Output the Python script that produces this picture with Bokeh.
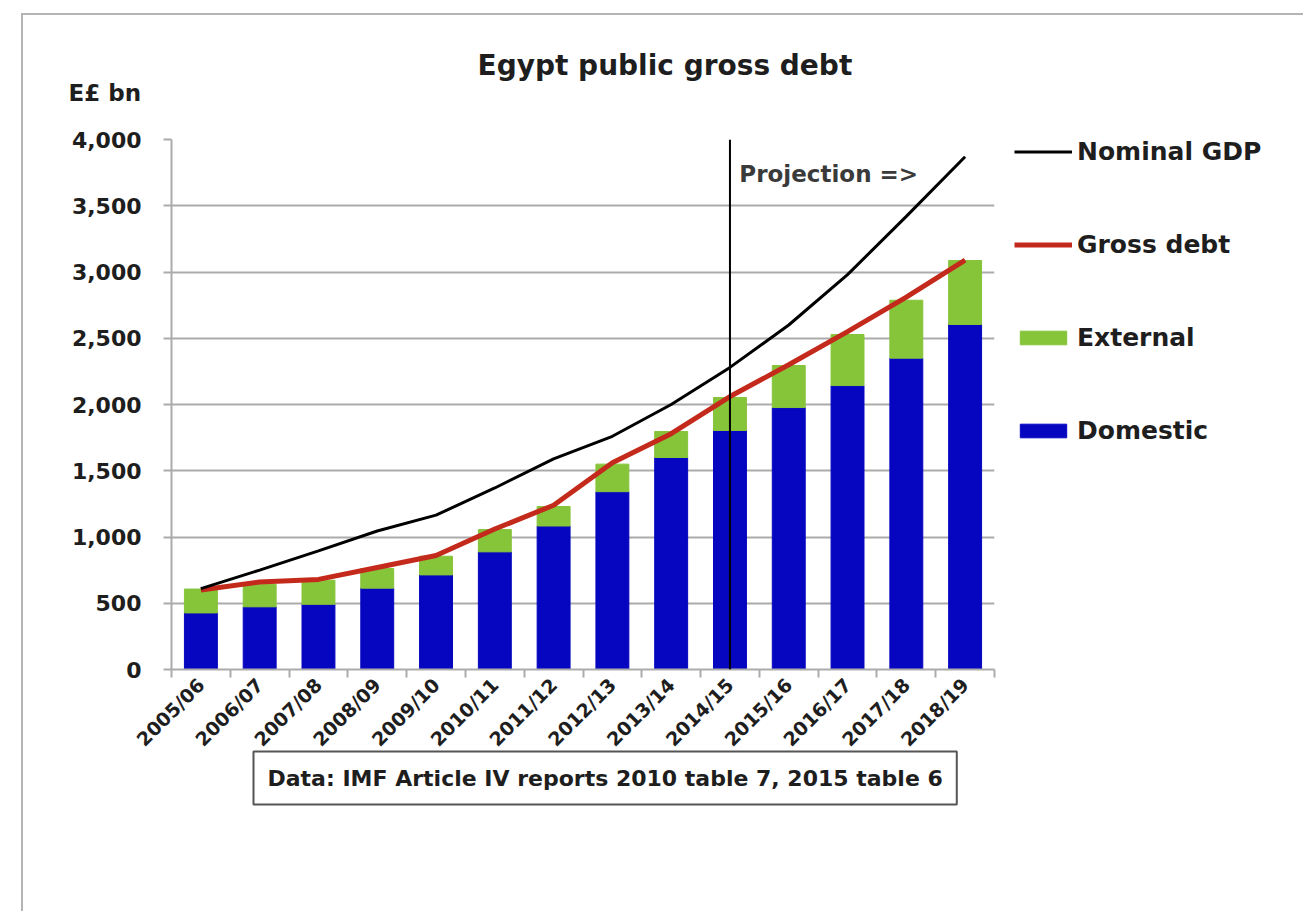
import math
from bokeh.plotting import figure
from bokeh.models import (Range1d, FixedTicker, NumeralTickFormatter, Label, Span,
                          Legend, LegendItem, ColumnDataSource, Title)
from bokeh.embed import file_html
from bokeh.resources import INLINE

# ---------------- data ----------------
years = ["2005/06", "2006/07", "2007/08", "2008/09", "2009/10", "2010/11", "2011/12",
         "2012/13", "2013/14", "2014/15", "2015/16", "2016/17", "2017/18", "2018/19"]
domestic = [427, 473, 492, 614, 714, 888, 1083, 1342, 1600, 1804, 1977, 2143, 2350, 2604]
external = [180, 169, 182, 148, 141, 168, 147, 208, 196, 249, 317, 385, 437, 483]
gross_debt = [600, 660, 680, 770, 860, 1060, 1240, 1560, 1780, 2060, 2300, 2550, 2810, 3090]
nominal_gdp = [610, 750, 895, 1045, 1165, 1370, 1590, 1760, 2000, 2280, 2600, 2980, 3420, 3870]
y_ticks = [0, 500, 1000, 1500, 2000, 2500, 3000, 3500, 4000]
projection_start = "2014/15"

FONT = "DejaVu Sans"
GREEN = "#86c43a"
BLUE = "#0606c0"
RED = "#c42a1c"
GRID = "#ababab"
TXT = "#1e1e1e"

idx = list(range(len(years)))
total = [d + e for d, e in zip(domestic, external)]
src = ColumnDataSource(dict(x=idx, domestic=domestic, total=total,
                            debt=gross_debt, gdp=nominal_gdp))

p = figure(frame_width=823, frame_height=530, output_backend="svg", toolbar_location=None,
           x_range=Range1d(-0.5, len(years) - 0.5), y_range=Range1d(0, 4000),
           min_border_left=148, min_border_right=20, min_border_top=124,
           min_border_bottom=242)
p.margin = (13, 0, 0, 21)
p.styles = {"border-top": "2px solid #b4b4b4", "border-left": "2px solid #b4b4b4"}
p.outline_line_color = None
p.background_fill_color = "white"
p.border_fill_color = "white"

# grid
p.xgrid.grid_line_color = None
p.ygrid.ticker = FixedTicker(ticks=y_ticks)
p.ygrid.grid_line_color = GRID
p.ygrid.grid_line_width = 2

# y axis
p.yaxis.ticker = FixedTicker(ticks=y_ticks)
p.yaxis.formatter = NumeralTickFormatter(format="0,0")
p.yaxis.axis_line_color = GRID
p.yaxis.axis_line_width = 2
p.yaxis.major_tick_line_color = GRID
p.yaxis.major_tick_line_width = 2
p.yaxis.major_tick_out = 8
p.yaxis.major_tick_in = 0
p.yaxis.minor_tick_line_color = None
p.yaxis.major_label_standoff = 22
p.yaxis.major_label_text_font = FONT
p.yaxis.major_label_text_font_style = "bold"
p.yaxis.major_label_text_font_size = "22px"
p.yaxis.major_label_text_color = TXT

# x axis
p.xaxis.ticker = FixedTicker(ticks=idx, minor_ticks=[i - 0.5 for i in range(len(years) + 1)])
p.xaxis.major_label_overrides = {i: y for i, y in zip(idx, years)}
p.xaxis.major_label_orientation = math.pi / 4
p.xaxis.axis_line_color = GRID
p.xaxis.axis_line_width = 2
p.xaxis.major_tick_line_color = None
p.xaxis.minor_tick_line_color = GRID
p.xaxis.minor_tick_line_width = 2
p.xaxis.minor_tick_out = 8
p.xaxis.minor_tick_in = 0
p.xaxis.major_label_standoff = 4
p.xaxis.major_label_text_font = FONT
p.xaxis.major_label_text_font_style = "bold"
p.xaxis.major_label_text_font_size = "19px"
p.xaxis.major_label_text_color = TXT

# bars
dom = p.vbar(x="x", bottom=0, top="domestic", width=0.56, source=src,
             fill_color=BLUE, line_color=BLUE)
ext = p.vbar(x="x", bottom="domestic", top="total", width=0.56, source=src,
             fill_color=GREEN, line_color=GREEN)

# lines
debt = p.line(x="x", y="debt", source=src, line_color=RED, line_width=5)
gdp = p.line(x="x", y="gdp", source=src, line_color="black", line_width=3)

# projection line
p.add_layout(Span(location=years.index(projection_start), dimension="height",
                  line_color="black", line_width=2))

p.add_layout(Label(x=9.16, y=3736, text="Projection =>", text_font=FONT,
                   text_font_style="bold", text_font_size="23px", text_align="left",
                   text_baseline="middle", text_color="#3a3a3a"))

# titles above (first added = closest to frame)
p.add_layout(Title(text="E£ bn", align="left", offset=-103, standoff=67,
                   text_font=FONT, text_font_style="bold", text_font_size="23px",
                   text_color=TXT), "above")
p.add_layout(Title(text="Egypt public gross debt", align="left", offset=306, standoff=-75,
                   text_font=FONT, text_font_style="bold", text_font_size="28px",
                   text_color=TXT), "above")

# footer below axis
p.add_layout(Title(text="Data: IMF Article IV reports 2010 table 7, 2015 table 6",
                   align="left", offset=82, standoff=-24,
                   text_font=FONT, text_font_style="bold", text_font_size="22px",
                   text_color=TXT, border_line_color="#555555", border_line_width=2,
                   background_fill_color="white", padding=14), "below")

# legend on the right
legend = Legend(items=[LegendItem(label="Nominal GDP", renderers=[gdp]),
                       LegendItem(label="Gross debt", renderers=[debt]),
                       LegendItem(label="External", renderers=[ext]),
                       LegendItem(label="Domestic", renderers=[dom])],
                location=(20, 224), orientation="vertical",
                label_text_font=FONT, label_text_font_style="bold",
                label_text_font_size="25px", label_text_color=TXT,
                glyph_width=58, glyph_height=17, label_standoff=5, spacing=64,
                padding=0, margin=0, border_line_color=None,
                background_fill_alpha=0)
p.add_layout(legend, "right")

open("out.html", "w").write(file_html(p, INLINE))
